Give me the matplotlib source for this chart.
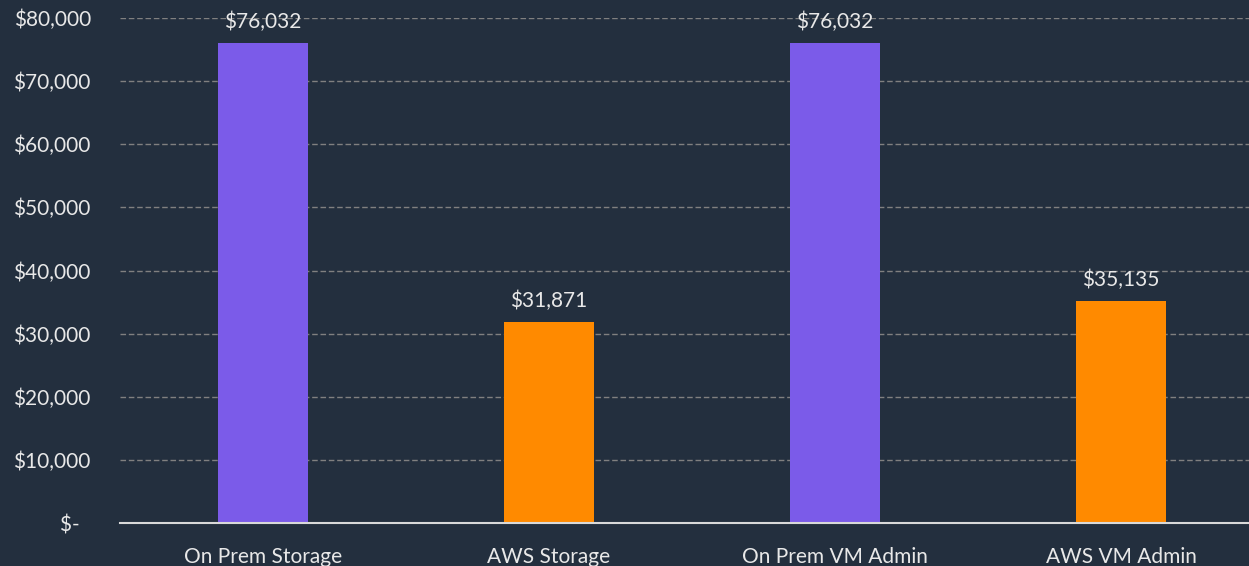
import matplotlib
matplotlib.use("Agg")
import matplotlib.pyplot as plt
from matplotlib.ticker import FuncFormatter

categories = ["On Prem Storage", "AWS Storage", "On Prem VM Admin", "AWS VM Admin"]
costs = [76032, 31871, 76032, 35135]
bar_colors = ["#7B5BE9", "#FF8A00", "#7B5BE9", "#FF8A00"]
yticks = [0, 10000, 20000, 30000, 40000, 50000, 60000, 70000, 80000]

bg = "#232F3E"
text_col = "#E8E8E8"

plt.rcParams['font.family'] = ['Lato', 'DejaVu Sans']

fig = plt.figure(figsize=(12.49, 5.66), dpi=100, facecolor=bg)
ax = fig.add_axes([120 / 1249, 1 - 523 / 566, 1144 / 1249, 505 / 566])
ax.set_facecolor(bg)

x = range(len(categories))
bars = ax.bar(x, costs, width=0.315, color=bar_colors, zorder=3)

for xi, v in zip(x, costs):
    ax.annotate("${:,}".format(v), (xi, v), xytext=(0, 8), textcoords="offset points",
                ha="center", va="bottom", color=text_col, fontsize=15)

ax.set_xlim(-0.5, len(categories) - 0.5)
ax.set_ylim(0, 80000)
ax.set_yticks(yticks)

def money(v, pos):
    if v == 0:
        return "$-  "
    return "${:,.0f}".format(v)

ax.yaxis.set_major_formatter(FuncFormatter(money))
ax.set_xticks(list(x))
ax.set_xticklabels(categories)
ax.tick_params(axis="both", length=0, colors=text_col, labelsize=15)
ax.tick_params(axis="y", pad=21)
ax.tick_params(axis="x", pad=17)

ax.grid(axis="y", color="#808080", linestyle=(0, (4, 2)), linewidth=1, zorder=0)
for s in ["top", "right", "left"]:
    ax.spines[s].set_visible(False)
ax.spines["bottom"].set_color("#D9D9D9")
ax.spines["bottom"].set_linewidth(1.5)
ax.spines["bottom"].set_zorder(4)

fig.savefig("out.png", dpi=100, facecolor=bg)
